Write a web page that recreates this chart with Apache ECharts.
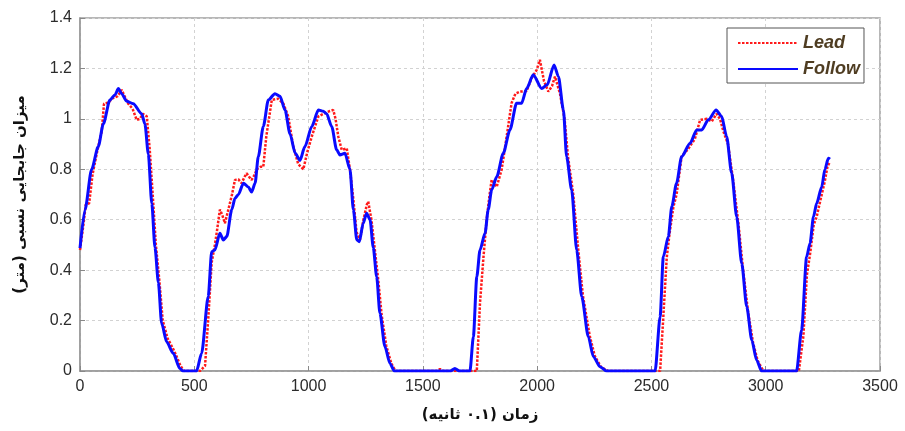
<!DOCTYPE html>
<html>
<head>
<meta charset="utf-8">
<script src="https://cdn.jsdelivr.net/npm/echarts@6/dist/echarts.min.js"></script>
<style>html,body{margin:0;padding:0;background:#fff}#c{width:905px;height:431px}</style>
</head>
<body>
<div id="c"></div>
<script>
var xTicks = [0, 500, 1000, 1500, 2000, 2500, 3000, 3500];
var yTicks = [0, 0.2, 0.4, 0.6, 0.8, 1, 1.2, 1.4];
var seriesNames = ['Lead', 'Follow'];
var xAxisTitle = 'زمان (۰.۱ ثانیه)';
var yAxisTitle = 'میزان جابجایی نسبی (متر)';

var leadX = [0,15,25,40,55,75,95,105,125,140,165,182,195,211,230,248,262,275,292,305,318,332,347,362,383,412,440,455,525,547,562,576,590,600,612,622,634,649,665,678,693,707,720,729,740,751,765,773,790,802,815,839,868,890,911,933,955,977,995,1014,1043,1065,1090,1108,1118,1130,1145,1167,1181,1196,1210,1225,1240,1255,1261,1275,1290,1305,1320,1340,1362,1380,1560,1575,1590,1736,1750,1765,1779,1792,1801,1815,1823,1845,1865,1888,1905,1925,1954,1975,1998,2012,2030,2049,2065,2078,2100,2120,2135,2158,2180,2200,2230,2252,2280,2310,2538,2552,2567,2580,2596,2610,2632,2660,2690,2713,2742,2764,2785,2800,2815,2835,2857,2880,2900,2922,2945,2965,2990,3145,3165,3180,3195,3210,3223,3240,3258,3270,3281];
var leadY = [0.48,0.58,0.66,0.665,0.78,0.87,0.95,1.06,1.065,1.08,1.09,1.115,1.09,1.06,1.04,0.996,1.0,1.02,1.01,0.88,0.70,0.50,0.36,0.20,0.13,0.08,0.02,0,0,0.02,0.22,0.43,0.50,0.56,0.64,0.62,0.586,0.64,0.70,0.758,0.76,0.745,0.77,0.784,0.77,0.758,0.78,0.80,0.81,0.81,0.93,1.075,1.08,1.06,1.01,0.89,0.82,0.80,0.87,0.93,1.01,1.02,1.03,1.035,1.0,0.93,0.877,0.883,0.80,0.68,0.55,0.52,0.60,0.66,0.672,0.60,0.48,0.36,0.22,0.10,0.03,0,0,0.008,0,0,0.27,0.45,0.60,0.70,0.758,0.74,0.73,0.80,0.92,1.062,1.10,1.108,1.11,1.16,1.194,1.234,1.15,1.108,1.13,1.168,1.10,1.0,0.85,0.70,0.48,0.30,0.14,0.06,0.015,0,0,0.215,0.45,0.55,0.65,0.70,0.85,0.88,0.92,0.996,1.0,0.99,1.02,1.0,0.95,0.90,0.76,0.59,0.41,0.24,0.11,0.04,0,0,0.14,0.38,0.47,0.58,0.612,0.68,0.75,0.81,0.83];

var followX = [0,22,51,80,102,131,153,168,182,204,233,270,284,299,314,328,343,357,379,408,437,450,510,532,561,576,590,612,627,642,664,678,693,715,736,751,766,780,802,824,853,875,897,919,941,962,984,1014,1043,1064,1079,1101,1123,1137,1159,1181,1196,1211,1222,1239,1254,1269,1283,1298,1312,1334,1356,1375,1620,1640,1660,1706,1721,1736,1750,1772,1786,1801,1823,1852,1881,1910,1932,1954,1983,2020,2044,2074,2093,2115,2129,2151,2173,2195,2224,2246,2275,2304,2516,2538,2552,2574,2589,2610,2632,2669,2698,2720,2749,2783,2807,2829,2851,2873,2895,2917,2939,2960,2982,3135,3157,3179,3194,3209,3223,3245,3259,3274,3281];
var followY = [0.487,0.64,0.80,0.89,0.98,1.075,1.095,1.12,1.10,1.07,1.06,1.02,0.98,0.86,0.665,0.49,0.35,0.19,0.116,0.07,0.01,0,0,0.07,0.295,0.473,0.48,0.546,0.52,0.533,0.64,0.685,0.70,0.745,0.73,0.71,0.745,0.85,0.97,1.075,1.10,1.09,1.035,0.94,0.865,0.835,0.89,0.97,1.035,1.03,1.02,0.97,0.877,0.857,0.864,0.80,0.64,0.52,0.513,0.586,0.626,0.60,0.49,0.374,0.23,0.097,0.03,0,0,0.01,0,0,0.136,0.374,0.48,0.546,0.64,0.718,0.77,0.864,0.956,1.062,1.062,1.12,1.175,1.12,1.135,1.214,1.168,1.035,0.85,0.718,0.48,0.295,0.136,0.057,0.017,0,0,0.215,0.453,0.533,0.652,0.745,0.85,0.903,0.956,0.956,0.996,1.035,1.01,0.93,0.785,0.612,0.427,0.255,0.123,0.044,0,0,0.163,0.453,0.507,0.612,0.665,0.73,0.80,0.844,0.84];

function pairs(xs, ys) { return xs.map(function (x, i) { return [x, ys[i]]; }); }

var chart = echarts.init(document.getElementById('c'), null, {renderer: 'canvas'});
var tickFont = {fontFamily: 'Liberation Sans', fontSize: 16, color: '#2b2b2b'};
chart.setOption({
  animation: false,
  backgroundColor: '#ffffff',
  grid: {left: 80, right: 25, top: 18, bottom: 60, show: true, borderColor: '#a0a0a0', borderWidth: 1.5, backgroundColor: 'transparent'},
  legend: {
    data: seriesNames,
    orient: 'vertical',
    left: 727, top: 28,
    padding: [6, 4, 5, 10],
    itemGap: 8,
    itemWidth: 60, itemHeight: 17,
    borderColor: '#555', borderWidth: 1, backgroundColor: '#fff',
    itemStyle: {opacity: 0},
    textStyle: {fontFamily: 'Liberation Sans', fontSize: 18, fontWeight: 'bold', fontStyle: 'italic', color: '#4f3d22'}
  },
  xAxis: {
    type: 'value', min: xTicks[0], max: xTicks[xTicks.length - 1], interval: 500,
    name: xAxisTitle, nameLocation: 'middle', nameGap: 37,
    nameTextStyle: {fontFamily: 'DejaVu Sans', fontSize: 15, fontWeight: 'bold', color: '#111'},
    axisLine: {lineStyle: {color: '#999', width: 1.5}},
    axisTick: {inside: true, length: 5, lineStyle: {color: '#888'}},
    axisLabel: Object.assign({margin: 8, formatter: function (v) { return String(v); }}, tickFont),
    splitLine: {show: true, lineStyle: {type: [3, 3], color: '#d2d2d2', width: 1}}
  },
  yAxis: {
    type: 'value', min: yTicks[0], max: yTicks[yTicks.length - 1], interval: 0.2,
    name: yAxisTitle, nameLocation: 'middle', nameGap: 52, nameRotate: 90,
    nameTextStyle: {fontFamily: 'DejaVu Sans', fontSize: 15, fontWeight: 'bold', color: '#111'},
    axisLine: {show: true, lineStyle: {color: '#999', width: 1.5}},
    axisTick: {show: true, inside: true, length: 5, lineStyle: {color: '#888'}},
    axisLabel: Object.assign({margin: 8, formatter: function (v) { return String(Math.round(v * 10) / 10); }}, tickFont),
    splitLine: {show: true, lineStyle: {type: [3, 3], color: '#d2d2d2', width: 1}}
  },
  series: [
    {
      name: seriesNames[0], type: 'line', data: pairs(leadX, leadY),
      symbol: 'none', smooth: false, z: 2,
      lineStyle: {color: '#ff1a1a', width: 2.5, type: [2.5, 1.5]},
      itemStyle: {color: '#ff1a1a'}
    },
    {
      name: seriesNames[1], type: 'line', data: pairs(followX, followY),
      symbol: 'none', smooth: 0.25, smoothMonotone: 'x', z: 3,
      lineStyle: {color: '#0a0aff', width: 3},
      itemStyle: {color: '#0a0aff'}
    }
  ]
});
</script>
</body>
</html>
